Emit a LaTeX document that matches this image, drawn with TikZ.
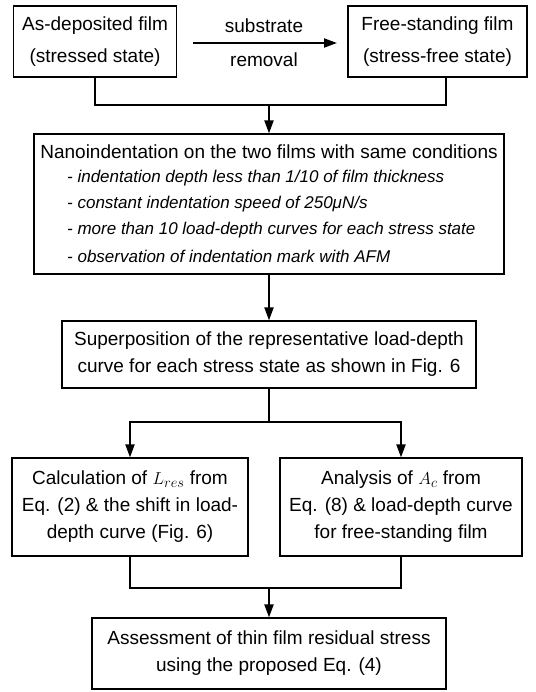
\documentclass[tikz,border=0pt]{standalone}
\usepackage{fontspec}
\setmainfont{Liberation Sans}
\usetikzlibrary{arrows.meta}
\begin{document}
\begin{tikzpicture}[x=1pt,y=-1pt,
  box/.style={draw, line width=1.2pt, inner sep=0pt, align=center,
    font=\fontsize{19}{27}\selectfont},
  topbox/.style={box, font=\fontsize{19}{32}\selectfont},
  lbl/.style={inner sep=0pt, font=\fontsize{19}{27}\selectfont},
  itm/.style={inner sep=0pt, anchor=west, font=\fontsize{17}{24}\selectfont\itshape},
  conn/.style={line width=2pt},
  arr/.style={line width=2pt, -{Triangle[length=13pt,width=9pt]}}]
\useasboundingbox (0,0) rectangle (535,692);

% top row
\node[topbox, minimum width=163, minimum height=71] (dep) at (95,41.5)
  {As-deposited film\\(stressed state)};
\node[topbox, minimum width=179, minimum height=71] (free) at (437.5,41.5)
  {Free-standing film\\(stress-free state)};
\node[lbl] (subs) at (264,26) {substrate};
\node[lbl] (rem) at (264,60) {removal};
\coordinate (a1) at (193,43);
\coordinate (a2) at (337,43);
\draw[arr] (a1) -- (a2);

% nanoindentation box
\node[box, minimum width=470, minimum height=140] (nano) at (269,204) {};
\node[lbl] (nt) at (269,152) {Nanoindentation on the two films with same conditions};
\node[itm] (i1) at (67,178) {- indentation depth less than 1/10 of film thickness};
\node[itm] (i2) at (67,204) {- constant indentation speed of 250μN/s};
\node[itm] (i3) at (67,230) {- more than 10 load-depth curves for each stress state};
\node[itm] (i4) at (67,256) {- observation of indentation mark with AFM};

\coordinate (j1) at (269,105);
\draw[conn] (dep.south) |- (j1);
\draw[conn] ([xshift=8.5pt]free.south) |- (j1);
\draw[arr] (j1) -- (j1 |- nano.north);

% superposition box
\node[box, minimum width=414, minimum height=67] (sup) at (269,354.5)
  {Superposition of the representative load-depth\\curve for each stress state as shown in Fig. 6};
\draw[arr] (nano.south) -- (sup.north);

% lower boxes
\node[box, minimum width=236, minimum height=98] (calc) at (130,507)
  {Calculation of $L_{res}$ from\\Eq. (2) \& the shift in load-\\depth curve (Fig. 6)};
\node[box, minimum width=242, minimum height=98] (ana) at (401,507)
  {Analysis of $A_c$ from\\Eq. (8) \& load-depth curve\\for free-standing film};
\coordinate (br) at (269,422);
\draw[conn] (sup.south) -- (br);
\draw[arr] (br) -| (calc.north);
\draw[arr] (br) -| (ana.north);

% final box
\node[box, minimum width=354, minimum height=71] (fin) at (269,653.5)
  {Assessment of thin film residual stress\\using the proposed Eq. (4)};
\coordinate (j2) at (269,588);
\draw[conn] (calc.south) |- (j2);
\draw[conn] (ana.south) |- (j2);
\draw[arr] (j2) -- (fin.north);
\end{tikzpicture}
\end{document}
